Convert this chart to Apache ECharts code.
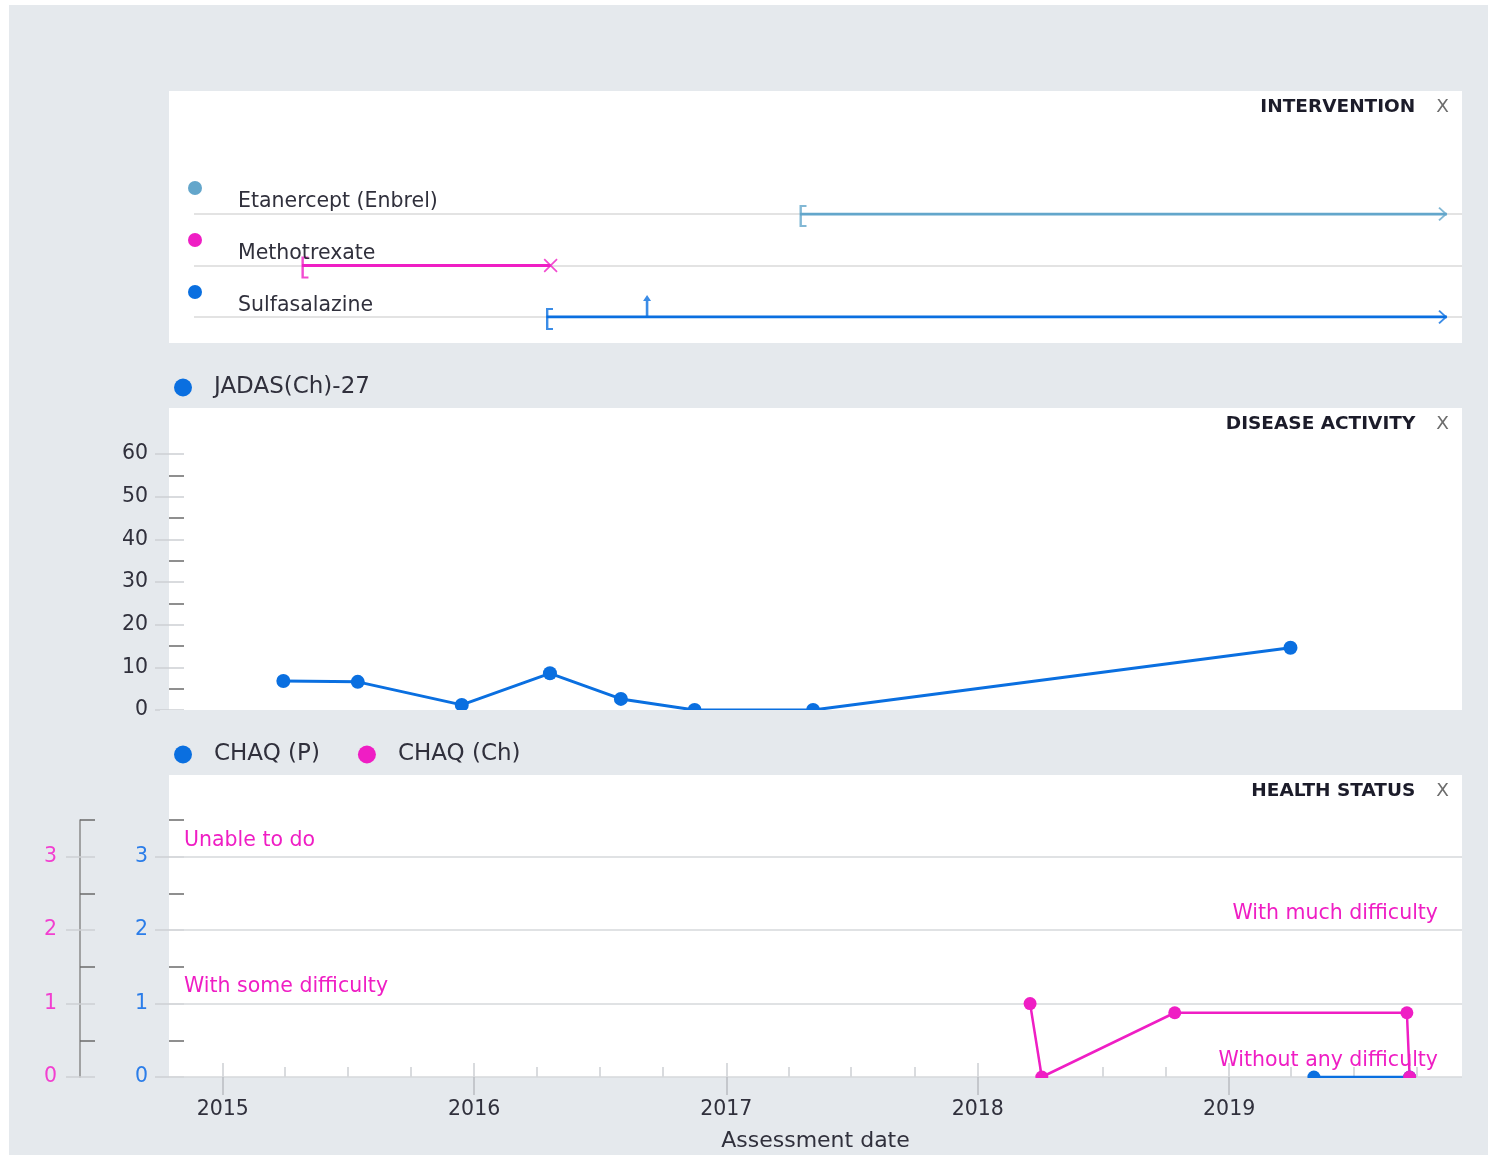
<!DOCTYPE html>
<html>
<head>
<meta charset="utf-8">
<script src="https://cdn.jsdelivr.net/npm/echarts@6/dist/echarts.min.js"></script>
<style>
  html, body { margin: 0; padding: 0; background: #fff; }
  #chart { width: 1488px; height: 1155px; }
</style>
</head>
<body>
<div id="chart"></div>
<script>
// Tratamientos (panel de intervención), de arriba hacia abajo
const drugNames = ['Etanercept (Enbrel)', 'Methotrexate', 'Sulfasalazine'];
const drugColors = ['#63a6cb', '#ef1ec4', '#0a6fe0'];
const drugRows = [2, 1, 0];
const drugStart = ['2017-04-18', '2015-04-26', '2016-04-15'];
const drugStop = [null, '2016-04-21', null];   // null = sigue activo
const ongoingUntil = '2019-11-13';
const doseIncreaseDates = ['2016-09-08'];
const doseIncreaseDrug = ['Sulfasalazine'];

// Actividad de la enfermedad
const jadasDates = ['2015-03-30', '2015-07-16', '2015-12-14', '2016-04-20', '2016-08-01', '2016-11-16', '2017-05-07', '2019-03-31'];
const jadasValues = [6.8, 6.6, 1.2, 8.6, 2.6, 0, 0, 14.6];

// Estado de salud
const chaqPDates = ['2019-05-04', '2019-09-20'];
const chaqPValues = [0, 0];
const chaqChDates = ['2018-03-18', '2018-04-04', '2018-10-14', '2019-09-16', '2019-09-20'];
const chaqChValues = [1, 0, 0.875, 0.875, 0];
const chaqLevelValues = [3, 2, 1, 0];
const chaqLevelTexts = ['Unable to do', 'With much difficulty', 'With some difficulty', 'Without any difficulty'];

// Marcas de los ejes
const yearTicks = [2015, 2016, 2017, 2018, 2019];
const jadasMajor = [0, 10, 20, 30, 40, 50, 60];
const jadasMinor = [5, 15, 25, 35, 45, 55];
const chaqMajor = [0, 1, 2, 3];
const chaqMinor = [0.5, 1.5, 2.5, 3.5];

const panelTitles = ['INTERVENTION', 'DISEASE ACTIVITY', 'HEALTH STATUS'];

// ---- estilos ----
const FONT = 'DejaVu Sans';
const BLUE = '#0a6fe0';
const PINK = '#ef1ec4';
const BG = '#e5e9ed';
const TEXT = '#30303c';
const LIGHT = '#cdd0d4';
const DARK = '#6b6b6b';

const ts = s => {
    const p = s.split('-').map(Number);
    return new Date(p[0], p[1] - 1, p[2]).getTime();
};

// rango temporal común (eje de valores con marcas de tiempo)
const xMin = ts('2014-10-15');
const xMax = ts('2019-12-05');
const plotLeft = 169, plotRight = 26, plotWidth = 1488 - plotLeft - plotRight;
const rowsLeft = 194;
const xMinRows = xMin + (rowsLeft - plotLeft) * (xMax - xMin) / plotWidth;

const yearValues = yearTicks.map(y => new Date(y, 0, 1).getTime());
const quarterValues = [];
for (let y = yearTicks[0] - 1; y <= yearTicks[yearTicks.length - 1]; y++) {
    [3, 6, 9].forEach(m => {
        const v = new Date(y, m, 1).getTime();
        if (v > xMin && v < xMax) quarterValues.push(v);
    });
}

const chart = echarts.init(document.getElementById('chart'));

// Paneles blancos y fondo gris
const graphic = [
    { type: 'rect', z: -10, shape: { x: 9, y: 5, width: 1479, height: 1150 }, style: { fill: BG } },
    { type: 'rect', z: -9, shape: { x: 169, y: 91, width: 1293, height: 252 }, style: { fill: '#fff' } },
    { type: 'rect', z: -9, shape: { x: 169, y: 408, width: 1293, height: 302 }, style: { fill: '#fff' } },
    { type: 'rect', z: -9, shape: { x: 169, y: 775, width: 1293, height: 302 }, style: { fill: '#fff' } },
    // tapas grises para cortar los puntos sobre el borde inferior
    { type: 'rect', z: 4, shape: { x: 160, y: 710, width: 1310, height: 65 }, style: { fill: BG } },
    { type: 'rect', z: 4, shape: { x: 160, y: 1078, width: 1310, height: 77 }, style: { fill: BG } }
];

function panelTitle(text, top) {
    return {
        text: '{b|' + text + '}{x|X}',
        right: 39, top: top, padding: 0,
        textStyle: {
            rich: {
                b: { fontFamily: FONT, fontSize: 18.5, fontWeight: 'bold', color: '#1c1c2a', lineHeight: 22 },
                x: { fontFamily: FONT, fontSize: 18.5, fontWeight: 'normal', color: '#6d6d6d', lineHeight: 22, padding: [0, 0, 0, 21] }
            }
        }
    };
}

function hiddenX(grid, min) {
    return { type: 'value', gridIndex: grid, min: min, max: xMax, show: false, splitLine: { show: false } };
}

function tickAxis(grid, offset, values, max, len, color, label) {
    return {
        type: 'value', gridIndex: grid, position: 'left', offset: offset,
        min: 0, max: max,
        axisLine: { show: false },
        splitLine: { show: false },
        axisTick: { show: true, inside: true, length: len, customValues: values, lineStyle: { color: color, width: 1.5 } },
        axisLabel: label ? Object.assign({ customValues: values, fontFamily: FONT, fontSize: 20.5 }, label) : { show: false }
    };
}

const yAxis = [
    { type: 'value', gridIndex: 0, min: 0, max: 2, interval: 1,
      axisLine: { show: false }, axisTick: { show: false }, axisLabel: { show: false },
      splitLine: { show: true, lineStyle: { color: '#dadada', width: 1.5 } } },
    tickAxis(1, 14, jadasMajor, 60, 29, LIGHT, { color: TEXT, margin: 7 }),
    tickAxis(1, 0, jadasMinor, 60, 15, DARK),
    tickAxis(2, 14, chaqMajor, 3.5, 29, LIGHT, { color: '#2b7de9', margin: 7 }),
    tickAxis(2, 0, chaqMinor, 3.5, 15, DARK),
    tickAxis(2, 103, chaqMajor, 3.5, 29, LIGHT, { color: '#f23fd0', margin: 9 }),
    tickAxis(2, 89, chaqMinor, 3.5, 15, DARK)
];
yAxis[6].axisLine = { show: true, lineStyle: { color: '#8a8a8a', width: 1.5 } };

const xAxis = [
    hiddenX(0, xMinRows),
    hiddenX(1, xMin),
    { type: 'value', gridIndex: 2, min: xMin, max: xMax, position: 'bottom',
      axisLine: { show: false, onZero: false },
      axisTick: { show: true, inside: true, length: 10, customValues: quarterValues, lineStyle: { color: LIGHT, width: 1.5 } },
      axisLabel: { show: false }, splitLine: { show: false } },
    { type: 'value', gridIndex: 2, min: xMin, max: xMax, position: 'bottom',
      axisLine: { show: false, onZero: false },
      axisTick: { show: true, inside: true, length: 14, customValues: yearValues, lineStyle: { color: LIGHT, width: 1.5 } },
      axisLabel: { show: false }, splitLine: { show: false } },
    { type: 'value', gridIndex: 2, min: xMin, max: xMax, position: 'bottom', z: 6,
      axisLine: { show: false, onZero: false },
      axisTick: { show: true, length: 18, customValues: yearValues, lineStyle: { color: '#b9bcc1', width: 1.5 } },
      axisLabel: { customValues: yearValues, margin: 22, fontFamily: FONT, fontSize: 20.5, color: TEXT,
                   formatter: v => String(new Date(v).getFullYear()) },
      splitLine: { show: false },
      name: 'Assessment date', nameLocation: 'middle', nameGap: 53,
      nameTextStyle: { fontFamily: FONT, fontSize: 22, color: TEXT } }
];

// Series del panel de intervención
const series = [];
drugNames.forEach((name, i) => {
    const end = drugStop[i] ? drugStop[i] : ongoingUntil;
    series.push({
        name: name, type: 'line', xAxisIndex: 0, yAxisIndex: 0, color: drugColors[i],
        showSymbol: false, silent: true, z: 3,
        lineStyle: { width: 3, color: drugColors[i] },
        data: [[ts(drugStart[i]), drugRows[i]], [ts(end), drugRows[i]]]
    });
});

series.push({
    name: 'start', type: 'scatter', xAxisIndex: 0, yAxisIndex: 0, silent: true, z: 4,
    symbol: 'path://M0,0H7V2.2H2.4V21.8H7V24H0Z', symbolSize: [7, 22], symbolOffset: [3, 2],
    data: drugNames.map((n, i) => ({ value: [ts(drugStart[i]), drugRows[i]], itemStyle: { color: drugColors[i] } }))
});
series.push({
    name: 'stop', type: 'scatter', xAxisIndex: 0, yAxisIndex: 0, silent: true, z: 4,
    symbol: 'path://M0,1.2L1.2,0L7,5.8L12.8,0L14,1.2L8.2,7L14,12.8L12.8,14L7,8.2L1.2,14L0,12.8L5.8,7Z',
    symbolSize: 14,
    data: drugNames.map((n, i) => drugStop[i] ? { value: [ts(drugStop[i]), drugRows[i]], itemStyle: { color: drugColors[i] } } : null)
        .filter(d => d)
});
series.push({
    name: 'ongoing', type: 'scatter', xAxisIndex: 0, yAxisIndex: 0, silent: true, z: 4,
    symbol: 'path://M0,1.2L1.2,0L8,7L1.2,14L0,12.8L5.6,7Z', symbolSize: [9, 14], symbolOffset: [-4, 0],
    data: drugNames.map((n, i) => drugStop[i] ? null : { value: [ts(ongoingUntil), drugRows[i]], itemStyle: { color: drugColors[i] } })
        .filter(d => d)
});
series.push({
    name: 'dose', type: 'scatter', xAxisIndex: 0, yAxisIndex: 0, silent: true, z: 4,
    symbol: 'path://M4,0L8,6H5.3V22H2.7V6H0Z', symbolSize: [8, 22], symbolOffset: [0, -11],
    data: doseIncreaseDates.map((d, i) => {
        const k = drugNames.indexOf(doseIncreaseDrug[i]);
        return { value: [ts(d), drugRows[k]], itemStyle: { color: drugColors[k] } };
    })
});

// Actividad de la enfermedad
series.push({
    name: 'JADAS(Ch)-27', type: 'line', xAxisIndex: 1, yAxisIndex: 1, color: BLUE,
    symbol: 'circle', symbolSize: 14, showAllSymbol: true,
    lineStyle: { width: 3 },
    data: jadasDates.map((d, i) => [ts(d), jadasValues[i]])
});

// Estado de salud
series.push({
    name: 'CHAQ (P)', type: 'line', xAxisIndex: 2, yAxisIndex: 3, color: BLUE, z: 3,
    symbol: 'circle', symbolSize: 13, lineStyle: { width: 2.5 },
    data: chaqPDates.map((d, i) => [ts(d), chaqPValues[i]])
});
series.push({
    name: 'CHAQ (Ch)', type: 'line', xAxisIndex: 2, yAxisIndex: 5, color: PINK, z: 3,
    symbol: 'circle', symbolSize: 13, lineStyle: { width: 2.5 },
    data: chaqChDates.map((d, i) => [ts(d), chaqChValues[i]]),
    markLine: {
        silent: true, symbol: 'none', animation: false, z: 1,
        lineStyle: { color: '#d6d8db', width: 1.5, type: 'solid' },
        label: { color: PINK, fontFamily: FONT, fontSize: 20.5 },
        data: chaqLevelValues.map((v, i) => ({
            yAxis: v,
            label: {
                formatter: chaqLevelTexts[i],
                position: i % 2 === 0 ? 'insideStartTop' : 'insideEndTop',
                distance: i % 2 === 0 ? [15, 6] : [24, 6]
            }
        }))
    }
});

const legendText = { fontFamily: FONT, fontSize: 23, color: TEXT, padding: [0, 0, 0, 17] };

const option = {
    animation: false,
    graphic: graphic,
    title: panelTitles.map((t, i) => panelTitle(t, [96, 413, 780][i])),
    legend: [
        { data: drugNames, orient: 'vertical', left: 188, top: 162, padding: 0, icon: 'circle', z: 6,
          itemWidth: 14, itemHeight: 14, itemGap: 0, selectedMode: false,
          formatter: name => '{g| }\n' + name,
          textStyle: { fontFamily: FONT, fontSize: 20.5, color: TEXT, lineHeight: 24, padding: [0, 0, 0, 31],
                       rich: { g: { fontSize: 10, lineHeight: 28 } } } },
        { data: ['JADAS(Ch)-27'], left: 174, top: 376, padding: 0, icon: 'circle', z: 6,
          itemWidth: 18, itemHeight: 18, selectedMode: false, textStyle: legendText },
        { data: ['CHAQ (P)', 'CHAQ (Ch)'], left: 174, top: 743, padding: 0, icon: 'circle', z: 6,
          itemWidth: 18, itemHeight: 18, itemGap: 38, selectedMode: false, textStyle: legendText }
    ],
    grid: [
        { left: rowsLeft, right: plotRight, top: 214, height: 103, outerBoundsMode: 'none' },
        { left: plotLeft, right: plotRight, top: 454, height: 256, outerBoundsMode: 'none' },
        { left: plotLeft, right: plotRight, top: 820, height: 257, outerBoundsMode: 'none' }
    ],
    xAxis: xAxis,
    yAxis: yAxis,
    series: series
};

chart.setOption(option);
</script>
</body>
</html>
